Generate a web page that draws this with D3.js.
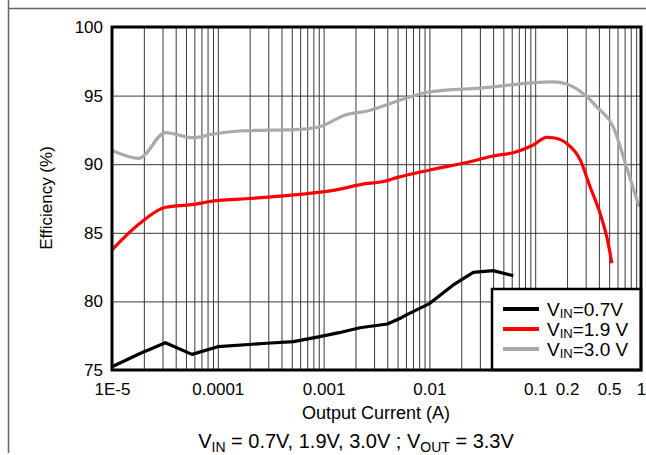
<!DOCTYPE html>
<html><head><meta charset="utf-8">
<script src="https://cdn.jsdelivr.net/npm/d3@7"></script>
<style>
html,body{margin:0;padding:0;background:#fff;}
svg{display:block;font-family:"Liberation Sans",Arial,sans-serif;}
</style></head>
<body>
<svg id="c" width="646" height="455"></svg>
<script>
// ---- data ----
const seriesNames = ["0.7V", "1.9 V", "3.0 V"];
const seriesColors = ["#000000", "#ff0000", "#aaaaaa"];

const vin07X = [1e-5, 1.84e-5, 3.2e-5, 5.7e-5, 1.0e-4, 2.9e-4, 5.2e-4, 9.2e-4, 1.4e-3, 2.2e-3, 4e-3, 5.3e-3, 6e-3, 0.0101, 0.0168, 0.026, 0.040, 0.062];
const vin07Y = [75.24, 76.2, 76.99, 76.14, 76.7, 76.95, 77.07, 77.43, 77.72, 78.08, 78.35, 78.77, 79.0, 79.86, 81.2, 82.12, 82.24, 81.87];

const vin19X = [1e-5, 1.8e-5, 3.2e-5, 5.6e-5, 9.7e-5, 1.6e-4, 6e-4, 1.15e-3, 2.6e-3, 3.6e-3, 5e-3, 0.0101, 0.0242, 0.04, 0.062, 0.096, 0.128, 0.148, 0.198, 0.267, 0.33, 0.41, 0.49, 0.53];
const vin19Y = [83.75, 85.64, 86.86, 87.05, 87.34, 87.45, 87.8, 88.05, 88.6, 88.72, 89.04, 89.58, 90.18, 90.6, 90.84, 91.4, 91.96, 91.93, 91.52, 90.3, 88.36, 86.42, 84.23, 82.78];

const vin30X = [1e-5, 1.8e-5, 3.2e-5, 5.9e-5, 9.1e-5, 1.6e-4, 6e-4, 9.6e-4, 1.6e-3, 2.6e-3, 5.1e-3, 0.0101, 0.03, 0.148, 0.198, 0.307, 0.38, 0.547, 0.73, 0.96];
const vin30Y = [91.0, 90.43, 92.3, 91.93, 92.2, 92.42, 92.54, 92.78, 93.59, 93.88, 94.63, 95.28, 95.55, 96.0, 95.85, 94.93, 94.2, 92.7, 89.8, 86.9];

const xTickValues = [1e-5, 1e-4, 1e-3, 1e-2, 0.1, 0.2, 0.5, 1];
const xTickLabels = ["1E-5", "0.0001", "0.001", "0.01", "0.1", "0.2", "0.5", "1"];
const yTickValues = [75, 80, 85, 90, 95, 100];

// ---- layout ----
const L = 112, R = 641, T = 27, B = 370;
const FONT = "Liberation Sans, Arial, sans-serif";
const svg = d3.select("#c");
const x = d3.scaleLog().domain([1e-5, 1]).range([L, R]);
const y = d3.scaleLinear().domain([75, 100]).range([B, T]);

// outer frame lines
svg.append("line").attr("x1", 8.5).attr("x2", 8.5).attr("y1", 0).attr("y2", 453).attr("stroke", "#666").attr("stroke-width", 1.5);
svg.append("line").attr("x1", 8.5).attr("x2", 646).attr("y1", 8.5).attr("y2", 8.5).attr("stroke", "#666").attr("stroke-width", 1.5);

// grid
const gridX = [];
for (let e = -5; e < 0; e++) for (let k = 1; k <= 9; k++) { const v = k * Math.pow(10, e); if (v > 1e-5) gridX.push(v); }
svg.append("g").attr("transform", `translate(0,${B})`)
  .call(d3.axisBottom(x).tickValues(gridX).tickSize(-(B - T)).tickFormat(""))
  .call(g => g.select(".domain").remove())
  .call(g => g.selectAll("line").attr("stroke", "#3a3a3a").attr("stroke-width", 1));
svg.append("g").attr("transform", `translate(${L},0)`)
  .call(d3.axisLeft(y).tickValues([80, 85, 90, 95]).tickSize(-(R - L)).tickFormat(""))
  .call(g => g.select(".domain").remove())
  .call(g => g.selectAll("line").attr("stroke", "#3a3a3a").attr("stroke-width", 1));

// series
const series = [
  vin07X.map((v, i) => [v, vin07Y[i]]),
  vin19X.map((v, i) => [v, vin19Y[i]]),
  vin30X.map((v, i) => [v, vin30Y[i]])
];
const curves = [d3.curveLinear, d3.curveMonotoneX, d3.curveMonotoneX];
[2, 1, 0].forEach(i => {
  const line = d3.line().x(d => x(d[0])).y(d => y(d[1])).curve(curves[i]);
  svg.append("path").attr("d", line(series[i])).attr("fill", "none")
    .attr("stroke", seriesColors[i]).attr("stroke-width", 3.2)
    .attr("stroke-linejoin", "round").attr("stroke-linecap", "butt");
});

// legend
const lg = svg.append("g");
lg.append("rect").attr("x", 492).attr("y", 289).attr("width", R - 492).attr("height", B - 289)
  .attr("fill", "#fff").attr("stroke", "#000").attr("stroke-width", 2.5);
seriesNames.forEach((n, i) => {
  const yy = 309 + i * 20;
  lg.append("line").attr("x1", 503).attr("x2", 539).attr("y1", yy).attr("y2", yy)
    .attr("stroke", seriesColors[i]).attr("stroke-width", 4);
  const t = lg.append("text").attr("x", 547).attr("y", yy + 6.5).attr("font-size", 19).attr("fill", "#000");
  t.append("tspan").text("V");
  t.append("tspan").attr("font-size", 13).attr("dy", 2).text("IN");
  t.append("tspan").attr("dy", -2).text("=" + n);
});

// frame
svg.append("rect").attr("x", L).attr("y", T).attr("width", R - L).attr("height", B - T)
  .attr("fill", "none").attr("stroke", "#000").attr("stroke-width", 3);

// axes labels
svg.append("g").attr("transform", `translate(0,${B})`)
  .call(d3.axisBottom(x).tickValues(xTickValues).tickSize(0).tickPadding(13)
    .tickFormat((d, i) => xTickLabels[i]))
  .call(g => g.select(".domain").remove())
  .call(g => g.selectAll("text").attr("font-size", 17).attr("fill", "#000").attr("font-family", FONT));
svg.append("g").attr("transform", `translate(${L},0)`)
  .call(d3.axisLeft(y).tickValues(yTickValues).tickSize(0).tickPadding(9).tickFormat(d3.format("d")))
  .call(g => g.select(".domain").remove())
  .call(g => g.selectAll("text").attr("font-size", 17).attr("fill", "#000").attr("font-family", FONT));

svg.append("text").attr("x", 376).attr("y", 419).attr("text-anchor", "middle").attr("font-size", 18).text("Output Current (A)");
svg.append("text").attr("transform", "translate(52,198) rotate(-90)").attr("text-anchor", "middle").attr("font-size", 17).text("Efficiency (%)");

const cap = svg.append("text").attr("x", 356).attr("y", 448).attr("text-anchor", "middle").attr("font-size", 20);
cap.append("tspan").text("V");
cap.append("tspan").attr("font-size", 14).attr("dy", 4).text("IN");
cap.append("tspan").attr("dy", -4).text(" = 0.7V, 1.9V, 3.0V ; V");
cap.append("tspan").attr("font-size", 14).attr("dy", 4).text("OUT");
cap.append("tspan").attr("dy", -4).text(" = 3.3V");
</script>
</body></html>
